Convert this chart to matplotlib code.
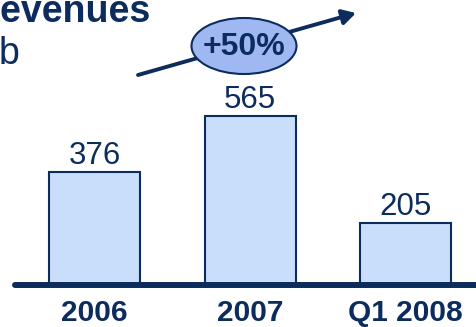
import matplotlib
matplotlib.use("Agg")
import matplotlib.pyplot as plt
from matplotlib.patches import Ellipse

categories = ["2006", "2007", "Q1 2008"]
revenues = [376, 565, 205]
growth_label = "+50%"
title_text = "Revenues"
unit_text = "b"

NAVY = "#0c2c5e"
BAR_FILL = "#c8defa"
ELL_FILL = "#9fb8f2"

W, H = 476, 327
fig = plt.figure(figsize=(W / 100, H / 100), dpi=100)
plt.rcParams['font.family'] = ['Liberation Sans', 'DejaVu Sans']

base_px = 283.5
px_per_unit = 0.297
ax = fig.add_axes([0, (H - base_px) / H, 1, base_px / H])
ax.set_ylim(0, base_px / px_per_unit)
spacing = 155.5
c0 = 94.5
ax.set_xlim(-c0 / spacing, (W - c0) / spacing)
ax.axis("off")

x = list(range(len(categories)))
bars = ax.bar(x, revenues, width=91 / spacing, color=BAR_FILL, edgecolor=NAVY,
              linewidth=1.5, zorder=2)
for xi, v in zip(x, revenues):
    ax.annotate(f"{v}", (xi, v), xytext=(0, 0.5), textcoords="offset points",
                ha="center", va="bottom", fontsize=22.5, color=NAVY)

# overlay in pixel coordinates (top-down)
ov = fig.add_axes([0, 0, 1, 1], facecolor="none")
ov.set_xlim(0, W)
ov.set_ylim(H, 0)
ov.axis("off")

# baseline
ov.plot([15, W + 5], [285, 285], color=NAVY, lw=4.3, solid_capstyle="round", zorder=3)

for xi, lab in zip(x, categories):
    px = c0 + xi * spacing
    ov.text(px, 321, lab, ha="center", va="baseline", fontsize=21.5, fontweight="bold",
            color=NAVY)

# arrow
ov.annotate("", xy=(356, 13), xytext=(138, 75),
            arrowprops=dict(arrowstyle="-|>,head_length=0.8,head_width=0.45",
                            color=NAVY, lw=2.8, shrinkA=0, shrinkB=0))
ell = Ellipse((244, 46), 105, 56, facecolor=ELL_FILL, edgecolor=NAVY, lw=1.5, zorder=4)
ov.add_patch(ell)
ov.text(244, 47, growth_label, ha="center", va="center", fontsize=23,
        fontweight="bold", color=NAVY, zorder=5)

ov.text(-26, 22, title_text, ha="left", va="baseline", fontsize=27,
        fontweight="bold", color=NAVY)
ov.text(-1, 64, unit_text, ha="left", va="baseline", fontsize=27, color=NAVY)

fig.savefig("out.png", dpi=100)
